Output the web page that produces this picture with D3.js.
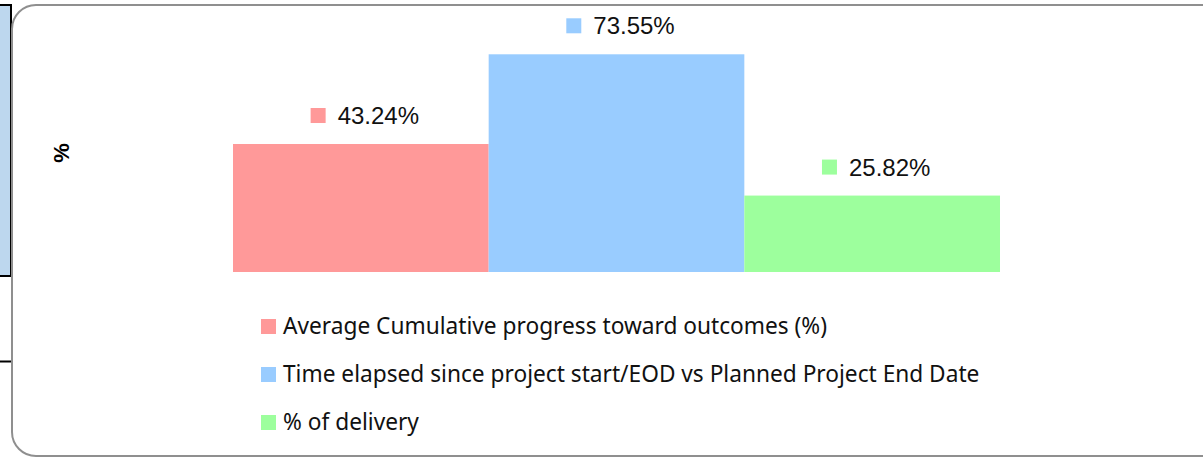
<!DOCTYPE html>
<html>
<head>
<meta charset="utf-8">
<script src="https://cdn.jsdelivr.net/npm/d3@7"></script>
<style>
  html, body { margin: 0; padding: 0; background: #ffffff; }
  svg { display: block; }
</style>
</head>
<body>
<div id="chart"></div>
<script>
// chart values
const seriesNames = [
  "Average Cumulative progress toward outcomes (%)",
  "Time elapsed since project start/EOD vs Planned Project End Date",
  "% of delivery"
];
const seriesValues = [43.24, 73.55, 25.82];
const seriesLabels = ["43.24%", "73.55%", "25.82%"];
const seriesColors = ["#ff9999", "#99ccff", "#9dff9d"];
const axisTitle = "%";

const width = 1203, height = 458;

const svg = d3.select("#chart")
  .append("svg")
  .attr("width", width)
  .attr("height", height);

// spreadsheet cells peeking out behind the chart
svg.append("rect")
  .attr("x", -2).attr("y", 5)
  .attr("width", 13).attr("height", 271)
  .attr("fill", "#bdd7ee")
  .attr("stroke", "#000").attr("stroke-width", 2);
svg.append("line")
  .attr("x1", 0).attr("x2", 12)
  .attr("y1", 361.5).attr("y2", 361.5)
  .attr("stroke", "#000").attr("stroke-width", 2);

// chart frame
svg.append("rect")
  .attr("x", 12).attr("y", 5)
  .attr("width", 1215).attr("height", 451)
  .attr("rx", 24).attr("ry", 24)
  .attr("fill", "#ffffff")
  .attr("stroke", "#8f8f8f").attr("stroke-width", 2);

// scales
const x = d3.scaleBand()
  .domain(seriesNames)
  .range([233, 1000])
  .padding(0);

const y = d3.scaleLinear()
  .domain([0, 80])
  .range([272, 35.2]);

// bars
svg.append("g")
  .selectAll("rect")
  .data(seriesNames)
  .join("rect")
  .attr("x", d => x(d))
  .attr("width", x.bandwidth())
  .attr("y", (d, i) => y(seriesValues[i]))
  .attr("height", (d, i) => y(0) - y(seriesValues[i]))
  .attr("fill", (d, i) => seriesColors[i]);

// data labels with legend key
const labels = svg.append("g")
  .selectAll("g")
  .data(seriesNames)
  .join("g");

labels.append("text")
  .attr("font-family", "'Liberation Sans', Arial, sans-serif")
  .attr("font-size", 24)
  .attr("fill", "#111")
  .text((d, i) => seriesLabels[i]);

labels.each(function (d, i) {
  let g = d3.select(this);
  let t = g.select("text");
  let tw = t.node().getComputedTextLength();
  let total = 15 + 12 + tw;
  let cx = x(d) + x.bandwidth() / 2 + 4;
  let left = cx - total / 2;
  let base = y(seriesValues[i]) - 20;
  g.insert("rect", "text")
    .attr("x", left)
    .attr("y", base - 16)
    .attr("width", 15).attr("height", 15)
    .attr("fill", seriesColors[i]);
  t.attr("x", left + 27).attr("y", base);
});

// axis title
svg.append("text")
  .attr("transform", "translate(69,153) rotate(-90)")
  .attr("text-anchor", "middle")
  .attr("font-family", "'Liberation Sans', Arial, sans-serif")
  .attr("font-weight", "bold")
  .attr("font-size", 22)
  .attr("fill", "#000")
  .text(axisTitle);

// legend
const legend = svg.append("g")
  .selectAll("g")
  .data(seriesNames)
  .join("g")
  .attr("transform", (d, i) => "translate(261," + (334 + i * 48) + ")");

legend.append("rect")
  .attr("x", 0).attr("y", -15)
  .attr("width", 15).attr("height", 15)
  .attr("fill", (d, i) => seriesColors[i]);

legend.append("text")
  .attr("x", 22)
  .attr("font-family", "'Noto Sans', sans-serif")
  .attr("font-size", 22.7)
  .attr("fill", "#111")
  .text(d => d);
</script>
</body>
</html>
